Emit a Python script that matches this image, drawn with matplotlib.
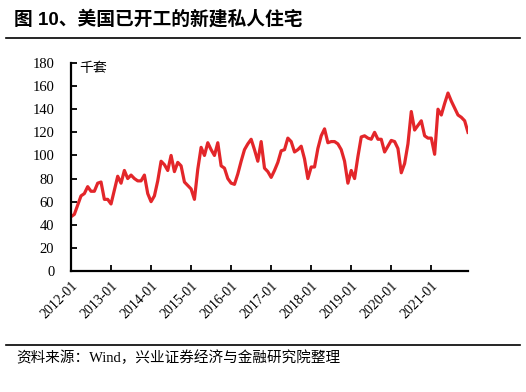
import matplotlib
matplotlib.use("Agg")
import matplotlib.pyplot as plt
from matplotlib.lines import Line2D

# Monthly housing starts (thousand units), 2012-01 .. 2021-12
values = [
    47, 49, 57, 65, 67, 73, 69, 69, 76, 77, 62, 62,          # 2012
    58, 70, 82, 76, 87, 80, 83, 80, 78, 78, 83, 67,          # 2013
    60, 65, 78, 95, 92, 87, 100, 86, 94, 91, 77, 74,         # 2014
    71, 62, 88, 107, 100, 111, 105, 100, 111, 91, 89, 80,    # 2015
    76, 75, 84, 95, 105, 110, 114, 105, 95, 112, 89, 86,     # 2016
    81, 87, 94, 104, 105, 115, 112, 103, 105, 108, 97, 80,   # 2017
    90, 90, 106, 117, 123, 111, 112, 112, 110, 105, 95, 76,  # 2018
    87, 80, 99, 116, 117, 115, 114, 120, 114, 114, 103, 108, # 2019
    113, 112, 106, 85, 93, 110, 138, 122, 126, 130, 117, 115,# 2020
    115, 101, 140, 135, 145, 154, 147, 141, 135, 133, 130, 120, # 2021
]
tick_labels = ["2012-01", "2013-01", "2014-01", "2015-01", "2016-01",
               "2017-01", "2018-01", "2019-01", "2020-01", "2021-01"]
y_ticks = [0, 20, 40, 60, 80, 100, 120, 140, 160, 180]

title = "图 10、美国已开工的新建私人住宅"
unit = "千套"
source = "资料来源：Wind，兴业证券经济与金融研究院整理"

cjk = ["Noto Sans CJK SC", "DejaVu Sans"]
serif = ["Liberation Serif", "DejaVu Serif"]

fig = plt.figure(figsize=(5.26, 3.92), dpi=100)
ax = fig.add_axes([71/526, 1-271/392, (468-71)/526, (271-63)/392])

x = list(range(len(values)))
ax.plot(x, values, color="#E3262A", lw=2.3, solid_joinstyle="round")

ax.set_xlim(0, len(values) - 1)
ax.set_ylim(0, 180)
ax.set_yticks(y_ticks)
ax.set_yticklabels([str(v) for v in y_ticks], family=serif, fontsize=10.5)
ax.set_xticks([12 * k for k in range(len(tick_labels))])
ax.set_xticklabels(tick_labels, family=serif, fontsize=10, rotation=45,
                   ha="right", va="top", rotation_mode="anchor")
ax.tick_params(axis="both", direction="in", length=4, width=1.3, color="black")
ax.tick_params(axis="y", pad=12)
ax.tick_params(axis="x", pad=6)
for s in ["top", "right"]:
    ax.spines[s].set_visible(False)
for s in ["left", "bottom"]:
    ax.spines[s].set_linewidth(1.6)
    ax.spines[s].set_color("black")

ax.text(0.022, 0.975, unit, transform=ax.transAxes, family=cjk, fontsize=10,
        ha="left", va="center")

fig.text(14/526, 1-19/392, title, family=["Liberation Sans", "Noto Sans CJK SC"],
         fontsize=13.5, fontweight="bold", ha="left", va="center")
fig.add_artist(Line2D([6/526, 520/526], [1-38/392, 1-38/392],
                      transform=fig.transFigure, color="black", lw=1.2))
fig.add_artist(Line2D([6/526, 520/526], [1-345/392, 1-345/392],
                      transform=fig.transFigure, color="black", lw=1.2))
fig.text(16/526, 1-358/392, source, family=["Liberation Serif", "Noto Sans CJK SC"],
         fontsize=10.5, ha="left", va="center")

fig.savefig("out.png", dpi=100)
